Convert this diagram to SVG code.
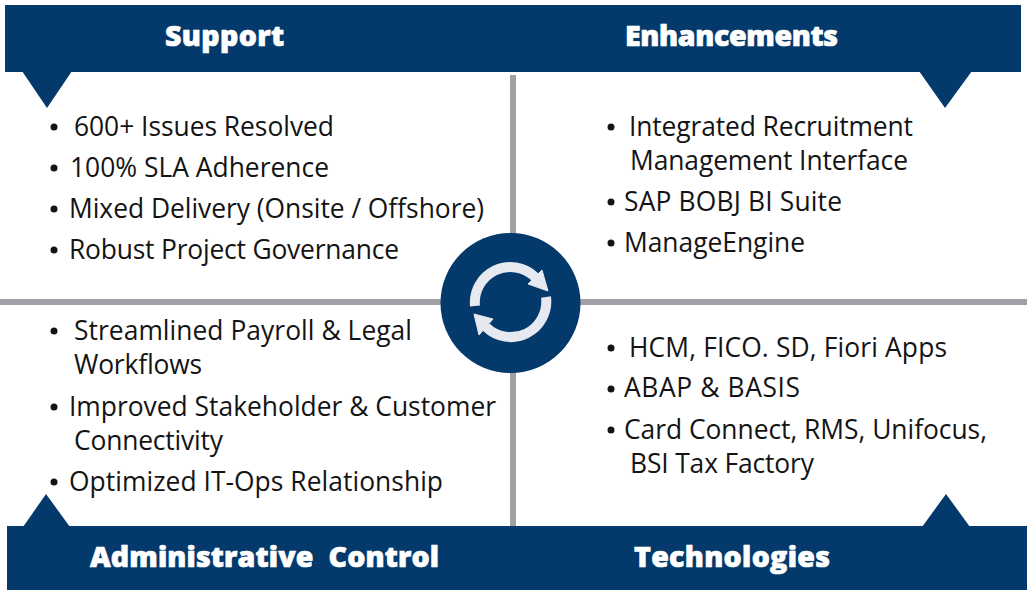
<svg xmlns="http://www.w3.org/2000/svg" width="1027" height="590" viewBox="0 0 1027 590">
<style>
.band{fill:#043a6b}
.rule{stroke:#a0a1a6;stroke-width:6;fill:none}
.h{font-family:"Open Sans","Noto Sans",sans-serif;font-weight:800;font-size:28.5px;fill:#fff;stroke:#fff;stroke-width:.7}
.t{font-family:"Open Sans","Noto Sans",sans-serif;font-size:26.4px;fill:#141414}
.b{fill:#141414}
.arc{fill:none;stroke:#e6e9f0;stroke-width:10}
.head{fill:#e6e9f0;stroke:#e6e9f0;stroke-width:1;stroke-linejoin:round}
</style>
<rect width="1027" height="590" fill="#fff"/>
<g id="connectors">
<line class="rule" x1="513" y1="75" x2="513" y2="526"/>
<line class="rule" x1="0" y1="302" x2="1027" y2="302"/>
</g>
<g id="support">
<path class="band" d="M5 5H1021V72H5Z"/>
<path class="band" d="M22 71H72L47 108Z"/>
<text class="h" x="165" y="46" textLength="119">Support</text>
</g>
<g id="enhancements">
<path class="band" d="M919 71H972L945 108Z"/>
<text class="h" x="625" y="46" textLength="213">Enhancements</text>
</g>
<g id="admin">
<path class="band" d="M7 526H1027V590H7Z"/>
<path class="band" d="M23 527L46 494L70 527Z"/>
<text class="h" x="90" y="567" textLength="349" xml:space="preserve">Administrative  Control</text>
</g>
<g id="technologies">
<path class="band" d="M922 527L946 494L970 527Z"/>
<text class="h" x="634" y="567" textLength="196">Technologies</text>
</g>
<g id="hub">
<circle cx="510.500" cy="303" r="70" fill="#043a6b"/>
<path class="arc" d="M475 306A35.500 35.500 0 0 1 535 277"/>
<path class="head" d="M548 291L542 270L528 284Z"/>
<path class="arc" d="M546 297A35.500 35.500 0 0 1 486 327"/>
<path class="head" d="M474 314L493 319L479 335Z"/>
</g>
<g id="support-text">
<circle class="b" cx="54" cy="127" r="3.500"/><text class="t" x="74" y="136" textLength="260">600+ Issues Resolved</text>
<circle class="b" cx="54" cy="168" r="3.500"/><text class="t" x="70" y="177" textLength="259">100% SLA Adherence</text>
<circle class="b" cx="54" cy="209" r="3.500"/><text class="t" x="69" y="218" textLength="415">Mixed Delivery (Onsite / Offshore)</text>
<circle class="b" cx="54" cy="250" r="3.500"/><text class="t" x="69" y="259" textLength="330">Robust Project Governance</text>
</g>
<g id="enh-text">
<circle class="b" cx="611" cy="127" r="3.500"/><text class="t" x="629" y="136" textLength="284">Integrated Recruitment</text>
<text class="t" x="630" y="170" textLength="278">Management Interface</text>
<circle class="b" cx="611" cy="202" r="3.500"/><text class="t" x="624" y="211" textLength="218">SAP BOBJ BI Suite</text>
<circle class="b" cx="611" cy="243" r="3.500"/><text class="t" x="624" y="252" textLength="181">ManageEngine</text>
</g>
<g id="admin-text">
<circle class="b" cx="54" cy="331" r="3.500"/><text class="t" x="74" y="340" textLength="338">Streamlined Payroll &amp; Legal</text>
<text class="t" x="74" y="374" textLength="128">Workflows</text>
<circle class="b" cx="54" cy="407" r="3.500"/><text class="t" x="69" y="416" textLength="427">Improved Stakeholder &amp; Customer</text>
<text class="t" x="74" y="450" textLength="149">Connectivity</text>
<circle class="b" cx="54" cy="482" r="3.500"/><text class="t" x="69" y="491" textLength="374">Optimized IT-Ops Relationship</text>
</g>
<g id="tech-text">
<circle class="b" cx="611" cy="348" r="3.500"/><text class="t" x="629" y="357" textLength="318">HCM, FICO. SD, Fiori Apps</text>
<circle class="b" cx="611" cy="389" r="3.500"/><text class="t" x="624" y="397" textLength="176">ABAP &amp; BASIS</text>
<circle class="b" cx="611" cy="430" r="3.500"/><text class="t" x="624" y="439" textLength="363">Card Connect, RMS, Unifocus,</text>
<text class="t" x="630" y="473" textLength="184">BSI Tax Factory</text>
</g>
</svg>
